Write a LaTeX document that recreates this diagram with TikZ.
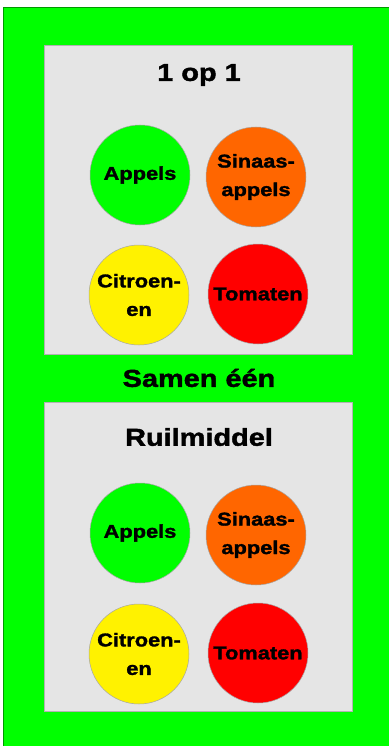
\documentclass[tikz,border=0pt]{standalone}
\usepackage{fontspec}
\newfontfamily\heavy{Liberation Sans}[FakeStretch=1.18,BoldFeatures={FakeBold=1.6}]
\definecolor{bggreen}{HTML}{00FF00}
\definecolor{panelgray}{HTML}{E5E5E5}
\definecolor{fruitorange}{HTML}{FF6600}
\tikzset{
  panel/.style={draw=gray!60,fill=panelgray,line width=0.6pt},
  fruit/.style={circle,draw=gray!70,line width=0.5pt,minimum size=100pt,inner sep=0pt,
    align=center,font=\heavy\bfseries\fontsize{18.5}{28.5}\selectfont},
  title/.style={font=\heavy\bfseries\fontsize{24.5}{28}\selectfont}
}
\begin{document}
\begin{tikzpicture}[x=1pt,y=-1pt]
\useasboundingbox (0,0) rectangle (388,746);
\draw[draw=green!60!black,fill=bggreen,line width=0.6pt] (3,7) rectangle (389,747);
\draw[panel] (44,45) rectangle (352,354);
\draw[panel] (44,402) rectangle (352,711);
\node[title] (top) at (199,75) {1 op 1};
\node[fruit,fill=bggreen] (appelsA) at (140,175) {Appels};
\node[fruit,fill=fruitorange] (sinaasA) at (256,177) {Sinaas-\\appels};
\node[fruit,fill=yellow] (citroenA) at (139,295) {Citroen-\\en};
\node[fruit,fill=red] (tomatenA) at (258,294) {Tomaten};
\node[title] (samen) at (199,378) {Samen één};
\node[title] (ruil) at (199,437) {Ruilmiddel};
\node[fruit,fill=bggreen] (appelsB) at (140,533) {Appels};
\node[fruit,fill=fruitorange] (sinaasB) at (256,535) {Sinaas-\\appels};
\node[fruit,fill=yellow] (citroenB) at (139,654) {Citroen-\\en};
\node[fruit,fill=red] (tomatenB) at (258,653) {Tomaten};
\end{tikzpicture}
\end{document}
